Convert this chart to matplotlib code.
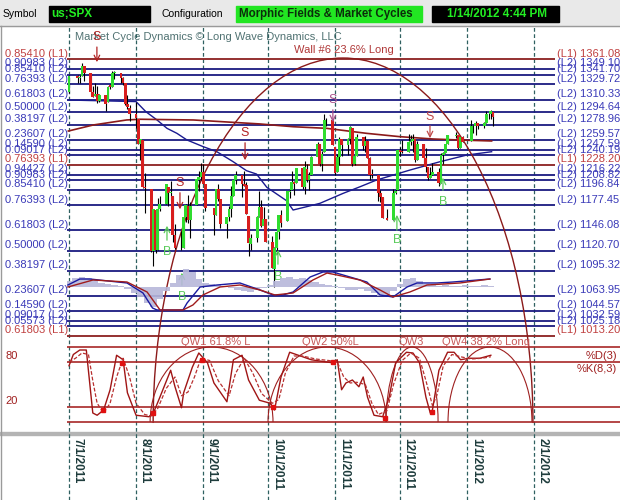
import datetime as dt

import matplotlib
matplotlib.use("Agg")
import matplotlib.pyplot as plt
import matplotlib.dates as mdates
import matplotlib.transforms as mtransforms
from matplotlib.patches import Rectangle, Arc
import pandas as pd

plt.rcParams["font.family"] = ["Liberation Sans", "DejaVu Sans"]

# ---- daily S&P 500 candles, 7/1/2011 - 1/13/2012 ----
day_numbers = {
    "2011-07": [1, 5, 6, 7, 8, 11, 12, 13, 14, 15, 18, 19, 20, 21, 22, 25, 26, 27, 28, 29],
    "2011-08": [1, 2, 3, 4, 5, 8, 9, 10, 11, 12, 15, 16, 17, 18, 19, 22, 23, 24, 25, 26, 29, 30, 31],
    "2011-09": [1, 2, 6, 7, 8, 9, 12, 13, 14, 15, 16, 19, 20, 21, 22, 23, 26, 27, 28, 29, 30],
    "2011-10": [3, 4, 5, 6, 7, 10, 11, 12, 13, 14, 17, 18, 19, 20, 21, 24, 25, 26, 27, 28, 31],
    "2011-11": [1, 2, 3, 4, 7, 8, 9, 10, 11, 14, 15, 16, 17, 18, 21, 22, 23, 25, 28, 29, 30],
    "2011-12": [1, 2, 5, 6, 7, 8, 9, 12, 13, 14, 15, 16, 19, 20, 21, 22, 23, 27, 28, 29, 30],
    "2012-01": [3, 4, 5, 6, 9, 10, 11, 12, 13],
}
dates = [f"{m}-{d:02d}" for m, days in day_numbers.items() for d in days]

opens = [
    1320.6, 1339.6, 1337.6, 1339.6, 1352.4, 1343.3, 1319.6, 1314.5, 1317.7, 1308.9, 1315.9, 1307.1, 1328.7, 1325.7, 1343.8, 1344.3, 1337.4, 1331.9, 1304.8, 1300.1,
    1292.6, 1286.6, 1254.3, 1260.2, 1200.3, 1198.5, 1120.2, 1171.8, 1121.3, 1172.9, 1178.9, 1200.7, 1192.9, 1189.6, 1140.5, 1123.6, 1124.4, 1162.2, 1176.7, 1158.9, 1177.9, 1209.8, 1213.0,
    1219.1, 1203.9, 1174.0, 1165.9, 1198.0, 1185.4, 1153.5, 1162.6, 1173.3, 1189.4, 1209.2, 1215.0, 1204.5, 1203.6, 1164.6, 1128.8, 1136.9, 1163.3, 1175.4, 1151.7, 1159.9,
    1131.2, 1097.4, 1124.0, 1144.1, 1165.0, 1158.2, 1194.6, 1196.2, 1207.0, 1205.7, 1224.5, 1200.8, 1223.5, 1209.9, 1215.4, 1238.7, 1254.2, 1229.2, 1244.0, 1284.4, 1285.0,
    1251.0, 1219.6, 1238.3, 1260.8, 1253.2, 1261.1, 1275.2, 1229.6, 1240.1, 1263.9, 1251.7, 1257.8, 1236.6, 1216.2, 1215.6, 1193.0, 1187.5, 1161.4, 1158.7, 1192.6, 1196.7,
    1246.9, 1246.0, 1244.3, 1257.2, 1258.1, 1260.9, 1234.5, 1255.1, 1236.8, 1225.7, 1212.1, 1216.1, 1219.7, 1205.7, 1241.3, 1243.7, 1254.0, 1265.0, 1265.4, 1249.8, 1262.8,
    1258.9, 1277.0, 1277.3, 1280.9, 1277.8, 1280.8, 1292.0, 1292.5, 1294.8,
]
highs = [
    1341.0, 1340.9, 1340.9, 1356.5, 1352.4, 1343.3, 1327.2, 1331.5, 1327.0, 1317.7, 1315.9, 1328.1, 1330.4, 1347.0, 1346.1, 1344.3, 1338.5, 1331.9, 1316.3, 1304.2,
    1307.4, 1286.6, 1261.2, 1260.2, 1218.1, 1198.5, 1172.9, 1171.8, 1186.3, 1189.0, 1204.5, 1200.7, 1208.5, 1189.6, 1154.5, 1145.5, 1162.4, 1178.6, 1190.7, 1181.2, 1210.1, 1220.1, 1230.7,
    1229.3, 1203.9, 1174.0, 1198.6, 1204.4, 1185.4, 1162.5, 1176.4, 1202.4, 1209.1, 1220.1, 1215.0, 1220.4, 1206.3, 1164.6, 1141.7, 1164.2, 1195.9, 1184.7, 1175.1, 1159.9,
    1139.0, 1125.1, 1146.1, 1165.6, 1171.4, 1194.9, 1199.2, 1220.3, 1207.5, 1224.6, 1224.6, 1233.1, 1229.6, 1219.4, 1239.0, 1256.6, 1254.2, 1246.3, 1292.7, 1287.2, 1285.0,
    1251.0, 1242.5, 1263.2, 1260.8, 1261.7, 1277.6, 1275.2, 1246.2, 1267.0, 1263.9, 1264.3, 1259.6, 1237.7, 1223.5, 1215.6, 1196.8, 1187.5, 1172.7, 1197.4, 1203.7, 1247.1,
    1251.1, 1260.1, 1266.7, 1266.0, 1267.1, 1260.9, 1258.3, 1255.1, 1249.9, 1225.7, 1225.6, 1231.0, 1224.6, 1242.8, 1245.1, 1255.2, 1265.4, 1269.4, 1265.9, 1263.5, 1264.1,
    1284.6, 1278.7, 1283.1, 1281.0, 1282.0, 1296.5, 1293.8, 1296.8, 1294.8,
]
lows = [
    1318.2, 1330.9, 1330.9, 1339.6, 1333.7, 1316.4, 1313.3, 1314.5, 1306.1, 1307.4, 1295.9, 1307.1, 1323.7, 1325.7, 1336.9, 1331.1, 1329.1, 1303.5, 1299.2, 1282.9,
    1274.7, 1254.0, 1234.6, 1199.5, 1168.1, 1119.3, 1101.5, 1118.0, 1121.3, 1170.7, 1178.9, 1176.4, 1184.4, 1131.0, 1122.1, 1121.1, 1124.4, 1156.3, 1155.0, 1135.9, 1177.9, 1195.8, 1209.4,
    1203.9, 1170.6, 1140.1, 1165.9, 1183.3, 1148.4, 1136.1, 1157.4, 1162.7, 1189.4, 1204.5, 1188.4, 1201.3, 1166.2, 1114.2, 1121.4, 1131.1, 1163.3, 1150.4, 1139.9, 1131.3,
    1098.9, 1074.8, 1115.7, 1135.0, 1150.3, 1158.2, 1187.3, 1196.2, 1190.6, 1205.7, 1198.6, 1191.5, 1206.3, 1197.3, 1215.4, 1238.7, 1226.8, 1221.1, 1244.0, 1277.0, 1253.2,
    1215.4, 1219.6, 1228.7, 1238.9, 1240.8, 1255.0, 1226.6, 1227.7, 1240.1, 1246.7, 1244.3, 1236.4, 1209.4, 1211.4, 1183.2, 1181.7, 1161.8, 1158.7, 1158.7, 1191.8, 1196.7,
    1239.7, 1243.4, 1244.3, 1253.0, 1244.8, 1231.5, 1234.5, 1227.3, 1219.4, 1209.5, 1212.1, 1215.2, 1202.4, 1205.7, 1229.5, 1243.7, 1254.0, 1262.3, 1248.6, 1249.8, 1257.5,
    1258.9, 1268.1, 1265.3, 1273.3, 1274.6, 1280.8, 1285.4, 1285.8, 1277.6,
]
closes = [
    1339.7, 1337.9, 1339.2, 1353.2, 1343.8, 1319.5, 1313.6, 1317.7, 1308.9, 1316.1, 1305.4, 1326.7, 1325.8, 1343.8, 1345.0, 1337.4, 1331.9, 1304.9, 1300.7, 1292.3,
    1286.9, 1254.1, 1260.3, 1200.1, 1199.4, 1119.5, 1172.5, 1120.8, 1172.6, 1178.8, 1204.5, 1192.8, 1193.9, 1140.7, 1123.5, 1123.8, 1162.4, 1177.6, 1159.3, 1176.8, 1210.1, 1212.9, 1218.9,
    1204.4, 1174.0, 1165.2, 1198.6, 1185.9, 1154.2, 1162.3, 1172.9, 1188.7, 1209.1, 1216.0, 1204.1, 1202.1, 1166.8, 1129.6, 1136.4, 1163.0, 1175.4, 1151.1, 1160.4, 1131.4,
    1099.2, 1124.0, 1144.0, 1165.0, 1155.5, 1194.9, 1195.5, 1207.3, 1203.7, 1224.6, 1200.9, 1225.4, 1209.9, 1215.4, 1238.3, 1254.2, 1229.1, 1242.0, 1284.6, 1285.1, 1253.3,
    1218.3, 1237.9, 1261.2, 1253.2, 1261.1, 1275.9, 1229.1, 1239.7, 1263.9, 1251.8, 1257.8, 1236.9, 1216.1, 1215.7, 1193.0, 1188.0, 1161.8, 1158.7, 1192.6, 1195.2, 1247.0,
    1244.6, 1244.3, 1257.1, 1258.5, 1261.0, 1234.4, 1255.2, 1236.5, 1225.7, 1211.8, 1215.8, 1219.7, 1205.4, 1241.3, 1243.7, 1254.0, 1265.3, 1265.4, 1249.6, 1263.0, 1257.6,
    1277.1, 1277.3, 1281.1, 1277.8, 1280.7, 1292.1, 1292.5, 1295.5, 1289.1,
]

# ---- Fibonacci levels (price, ratio, level) ----
level_prices = [1361.08, 1349.10, 1341.70, 1329.72, 1310.33, 1294.64, 1278.96, 1259.57, 1247.59, 1240.19,
                1228.20, 1216.22, 1208.82, 1196.84, 1177.45, 1146.08, 1120.70, 1095.32, 1063.95, 1044.57,
                1032.59, 1025.18, 1013.20]
level_ratios = ["0.85410", "0.90983", "0.85410", "0.76393", "0.61803", "0.50000", "0.38197", "0.23607", "0.14590", "0.09017",
                "0.76393", "0.94427", "0.90983", "0.85410", "0.76393", "0.61803", "0.50000", "0.38197", "0.23607", "0.14590",
                "0.09017", "0.05573", "0.61803"]
level_kinds = ["L1", "L2", "L2", "L2", "L2", "L2", "L2", "L2", "L2", "L2",
               "L1", "L2", "L2", "L2", "L2", "L2", "L2", "L2", "L2", "L2",
               "L2", "L2", "L1"]

# moving averages (days after 7/1/2011, price)
ma_fast_days = [-0.5, 31, 35.5, 40.7, 45.3, 49.9, 54.5, 62, 68.3, 75.8, 82.1, 86.7, 91.5, 94.7, 100.6, 103.6,
                109.9, 116, 126.7, 134.6, 142.2, 157.7, 171.5, 183.9, 195.4]
ma_fast = [1309.9, 1307.9, 1295.3, 1284.8, 1274.3, 1268.0, 1259.7, 1251.3, 1245.0, 1232.5, 1221.0, 1216.8, 1200.0,
           1194.2, 1183.3, 1171.6, 1175.8, 1180.0, 1192.5, 1200.9, 1209.3, 1221.9, 1232.3, 1240.7, 1244.9]
ma_slow_days = [-0.3, 11.2, 26.6, 32.8, 57.5, 88.3, 103.7, 119.1, 137.6, 153, 168.3, 180.8, 195.4]
ma_slow = [1270.9, 1278.5, 1284.8, 1285.7, 1284.8, 1279.8, 1276.3, 1274.3, 1268.0, 1263.8, 1260.9, 1259.6, 1258.4]

# MACD style oscillator
macd_days = [-0.5, 5, 9.7, 26.8, 34.2, 38.6, 40.7, 52.7, 54.6, 60.6, 68.5, 79, 88.3, 94.3, 98.9, 103.6,
             111.5, 117.4, 122, 129.9, 137.7, 143.8, 149.8, 156.3, 160.9, 170.1, 177.5, 194.6]
macd = [3.5, 13.9, 13.9, 7.0, -10.4, -36.5, -40, -40, -27.8, 0, 3.5, 7.0, -5.2, -13.9, -13.9, -8.7,
        17.4, 26.1, 26.1, 17.4, 8.7, -13.9, -17.4, 0, 7.0, 7.0, 8.7, 13.9]
signal_days = [-0.5, 11.1, 26.8, 36.1, 42.1, 52.7, 57.3, 61.9, 69.8, 79.0, 88.3, 95.2, 103.6, 112.8, 119.3,
               123.9, 134.5, 143.8, 149.8, 157.6, 165.5, 180.8, 194.6]
signal = [0, 12.2, 8.7, -8.7, -40, -40, -31.3, -13.9, 0, 3.5, -5.2, -13.9, -10.4, 12.2, 24.3,
          20.9, 12.2, -5.2, -17.4, -8.7, 3.5, 7.0, 13.9]
hist_days = [0, 3, 6, 9, 12, 15, 18, 21, 24, 27, 30, 33, 36, 39, 42, 45, 48, 51, 54, 57, 60, 63, 66, 69,
             72, 75, 78, 81, 84, 87, 90, 93, 96, 99, 102, 105, 108, 111, 114, 117, 120, 123, 126, 129,
             132, 135, 138, 141, 144, 147, 150, 153, 156, 159, 162, 165, 168, 171, 174, 177, 180, 183,
             186, 189, 192, 195]
hist = [10.4, 15.7, 17.4, 15.7, 12.2, 7.0, 5.2, 3.5, 1.7, -3.5, -10.4, -17.4, -27.8, -34.8, -20.9, -7.0,
        7.0, 20.9, 31.3, 26.1, 13.9, 7.0, 5.2, 3.5, 1.7, -1.7, -5.2, -7.0, -8.7, -5.2, -1.7, 3.5, 10.4,
        15.7, 17.4, 13.9, 15.7, 12.2, 8.7, 5.2, 3.5, 1.7, -1.7, -5.2, -5.2, -3.5, -7.0, -10.4, -15.7,
        -13.9, -7.0, 5.2, 13.9, 15.7, 10.4, 5.2, 3.5, 1.7, 3.5, 1.7, 1.7, 3.5, 1.7, 1.7, 3.5, 1.7]

# stochastic %K(8,3) and %D(3)
k_days = [0, 2, 5, 8, 10, 11, 13, 16, 19, 22, 25, 27, 31, 37, 39, 42, 47, 49, 52, 53, 57, 60, 64, 67, 73,
          76, 80, 83, 88, 93, 95, 98, 102, 106, 112, 119, 122, 124, 126, 128, 131, 134, 136, 138, 141,
          145, 148, 151, 156, 159, 162, 165, 167, 168, 171, 175, 178, 181, 185, 190, 195]
k_vals = [75, 90, 96, 96, 40, 12, 9, 16, 43, 89, 83, 39, 9, 7, 12, 33, 69, 47, 19, 39, 73, 92, 79, 52, 27,
          83, 89, 56, 29, 25, 16, 60, 93, 89, 83, 80, 79, 83, 43, 52, 56, 47, 60, 33, 9,
          7, 33, 79, 93, 92, 79, 33, 12, 16, 69, 93, 93, 83, 85, 85, 89]
d_days = [0, 3, 6, 9, 11, 13, 16, 19, 22, 25, 28, 31, 35, 38, 41, 45, 49, 52, 55, 58, 61, 65, 69, 74, 77,
          81, 85, 89, 94, 97, 100, 104, 108, 114, 120, 124, 127, 130, 133, 137, 140, 143, 147, 150, 154,
          158, 162, 165, 168, 170, 173, 177, 181, 186, 191, 195]
d_vals = [80, 85, 92, 90, 55, 25, 12, 25, 60, 85, 60, 25, 10, 8, 18, 45, 60, 35, 40, 60, 85, 82, 55, 35, 65,
          85, 65, 38, 25, 30, 65, 88, 88, 84, 82, 80, 60, 52, 53, 50, 25, 10, 15, 50, 82,
          92, 85, 55, 22, 35, 75, 90, 87, 84, 85, 87]
turn_days = [15.7, 24.5, 38.8, 61.5, 94.3, 122, 146, 168]
turn_vals = [16, 79, 12, 83, 20, 80, 5, 13]

# quarter-wave arcs: (centre day, half width in days, label, label day)
qw_centres = [65.9, 119.3, 158.6, 194.6]
qw_halfwidths = [28.4, 27.3, 12.0, 19.4]
qw_labels = ["QW1 61.8% L", "QW2 50%L", "QW3", "QW4 38.2% Long"]
qw_label_days = [51.8, 107.7, 152.1, 172.4]

# signals: day, price of letter, arrow tail, arrow head
sell_days = [12.9, 51.3, 81.4, 122, 166.9]
sell_text = [1389.1, 1205.6, 1268.4, 1309.9, 1288.4]
sell_from = [1380.0, 1196.8, 1259.6, 1301.0, 1281.0]
sell_to = [1354.0, 1169.0, 1230.7, 1278.5, 1258.4]
buy_days = [45.3, 52.2, 96.6, 151.6, 172.9]
buy_text = [1118.9, 1062.3, 1087.4, 1133.9, 1181.7]
buy_from = [1130.2, 1073.6, 1100.0, 1142.7, 1193.0]
buy_to = [1155.3, 1096.3, 1125.1, 1169.0, 1215.7]

month_starts = ["2011-07-01", "2011-08-01", "2011-09-01", "2011-10-01", "2011-11-01",
                "2011-12-01", "2012-01-01", "2012-02-01"]
month_labels = ["7/1/2011", "8/1/2011", "9/1/2011", "10/1/2011", "11/1/2011",
                "12/1/2011", "1/1/2012", "2/1/2012"]

# ---------------------------------------------------------------
W, H = 620, 500
fig = plt.figure(figsize=(W / 100, H / 100), dpi=100, facecolor="white")


def px_axes(x0, y0, x1, y1):
    return fig.add_axes([x0 / W, 1 - y1 / H, (x1 - x0) / W, (y1 - y0) / H])


L1_LINE, L2_LINE = "#8B2020", "#1A1A80"
L1_TEXT, L2_TEXT = "#C04040", "#3A3AB8"
GREEN, RED = "#2FDC2F", "#D81E1E"
d0 = mdates.date2num(dt.date(2011, 7, 1))

# background: header strip and frame
bg = fig.add_axes([0, 0, 1, 1])
bg.set_xlim(0, W)
bg.set_ylim(H, 0)
bg.axis("off")
bg.add_patch(Rectangle((0, 0), W, 26, color="#E9E9E9", zorder=0))
bg.plot([0, W], [26, 26], color="#9A9A9A", lw=1)
bg.plot([0.5, 0.5], [26, H], color="#9A9A9A", lw=1)
bg.add_patch(Rectangle((49, 6), 101, 16, color="black"))
bg.add_patch(Rectangle((236, 6), 186, 16, color="#22E622"))
bg.add_patch(Rectangle((432, 6), 127, 16, color="black"))
bg.text(3, 14, "Symbol", fontsize=7.5, va="center", color="black")
bg.text(51, 14, "us;SPX", fontsize=8.5, fontweight="bold", va="center", color="#22EE22")
bg.text(162, 14, "Configuration", fontsize=7.5, va="center", color="black")
bg.text(239, 14, "Morphic Fields & Market Cycles", fontsize=8.3, fontweight="bold",
        va="center", color="#0B2E0B")
bg.text(447, 14, "1/14/2012 4:44 PM", fontsize=8.5, fontweight="bold", va="center", color="#22EE22")
bg.add_patch(Rectangle((0, 432), W, 3, color="#B4B4B4"))
bg.text(75, 37, "Market Cycle Dynamics \u00a9 Long Wave Dynamics, LLC", fontsize=8,
        va="center", color="#507272")

# price panel
ax = px_axes(67, 26, 555, 430)
ax.set_facecolor("none")
ax.set_xlim(d0 - 0.925, d0 + 224.7)
ax.set_ylim(895.03, 1402.95)
ax.axis("off")

for p, r, k in zip(level_prices, level_ratios, level_kinds):
    ax.axhline(p, color=L1_LINE if k == "L1" else L2_LINE, lw=1.3, zorder=1)
left_tr = mtransforms.blended_transform_factory(fig.transFigure, ax.transData)
for p, r, k in zip(level_prices, level_ratios, level_kinds):
    c = L1_TEXT if k == "L1" else L2_TEXT
    ax.text(5 / W, p + 0.8, f"{r} ({k})", transform=left_tr, fontsize=8, color=c, va="bottom")
    ax.text(557 / W, p + 0.8, f"({k}) {p:.2f}", transform=left_tr, fontsize=8, color=c, va="bottom")

for m in month_starts:
    ax.axvline(mdates.datestr2num(m), ymin=-0.174, ymax=1, color="#2F6060", lw=0.9,
               ls=(0, (3, 2)), clip_on=False, zorder=0)
lab_tr = mtransforms.blended_transform_factory(ax.transData, fig.transFigure)
for m, lab in zip(month_starts, month_labels):
    ax.text(mdates.datestr2num(m) + 1.3, 1 - 438 / H, lab, transform=lab_tr, rotation=270,
            ha="left", va="top", fontsize=8.5, fontweight="bold", color="#1E3C3C")

ax.plot([d0 + d for d in ma_fast_days], ma_fast, color="#1A1A90", lw=1, zorder=2)
ax.plot([d0 + d for d in ma_slow_days], ma_slow, color="#8B1A1A", lw=1.2, zorder=2)

x = mdates.date2num(pd.to_datetime(dates))
bottoms = [min(o, c) for o, c in zip(opens, closes)]
heights = [max(abs(c - o), 0.8) for o, c in zip(opens, closes)]
colors = [GREEN if c >= o else RED for o, c in zip(opens, closes)]
ax.vlines(x, lows, highs, color="black", lw=0.8, zorder=3)
ax.bar(x, heights, bottom=bottoms, width=1.3, color=colors, zorder=4)

ax.add_patch(Arc((d0 + 126.7, 903.8), 2 * 87.8, 2 * 458.9, theta1=0, theta2=180,
                 color="#8B1A1A", lw=1, zorder=2))
ax.text(d0 + 127.1, 1372.8, "Wall #6 23.6% Long", fontsize=8, color="#B03838",
        ha="center", va="center")

sell_colors = ["#B22222", "#B22222", "#B22222", "#A8508A", "#C04848"]
for d, t, f, h, c in zip(sell_days, sell_text, sell_from, sell_to, sell_colors):
    ax.text(d0 + d, t, "S", fontsize=9, color=c, ha="center", va="center", zorder=5)
    ax.annotate("", xy=(d0 + d, h), xytext=(d0 + d, f),
                arrowprops=dict(arrowstyle="->", color=c, lw=0.9), zorder=5)
for d, t, f, h in zip(buy_days, buy_text, buy_from, buy_to):
    ax.text(d0 + d, t, "B", fontsize=9, color="#5ACB5A", ha="center", va="center", zorder=5)
    ax.annotate("", xy=(d0 + d, h), xytext=(d0 + d, f),
                arrowprops=dict(arrowstyle="->", color="#5ACB5A", lw=0.9), zorder=5)

# MACD-like oscillator inside the price panel
mx = px_axes(67, 262, 555, 322)
mx.set_facecolor("none")
mx.set_xlim(ax.get_xlim())
mx.set_ylim(-60.9, 43.5)
mx.axis("off")
mx.bar([d0 + d for d in hist_days], hist, width=3.0, color="#B7B7DA", alpha=0.9, lw=0)
mx.plot([d0 + d for d in macd_days], macd, color="#1A1AA0", lw=1)
mx.plot([d0 + d for d in signal_days], signal, color="#A01C1C", lw=1)

# stochastic panel
sx = px_axes(67, 336, 620, 430)
sx.set_facecolor("none")
sx.set_xlim(d0 - 0.925, d0 + 254.7)
sx.set_ylim(-10.67, 114.67)
sx.axis("off")
for lvl in [100, 80, 20, 0]:
    sx.axhline(lvl, color="#A82828", lw=1.2, zorder=1)
for c, hw in zip(qw_centres, qw_halfwidths):
    sx.add_patch(Arc((d0 + c, 0), 2 * hw, 200, theta1=0, theta2=180, color="#9E2020", lw=0.8))
for lab, d in zip(qw_labels, qw_label_days):
    sx.text(d0 + d, 107, lab, fontsize=8, color="#C85858", ha="left", va="center")
sx.plot([d0 + d for d in k_days], k_vals, color="#A01515", lw=1, zorder=3)
sx.plot([d0 + d for d in d_days], d_vals, color="#B83030", lw=0.9, ls=(0, (3, 1.5)), zorder=3)
sx.plot([d0 + d for d in turn_days], turn_vals, ls="none", marker="s", ms=2.5,
        color="#E01010", zorder=4)
stoch_tr = mtransforms.blended_transform_factory(fig.transFigure, sx.transData)
sx.text(5 / W, 81, "80", transform=stoch_tr, fontsize=8, color="#A02020", va="bottom")
sx.text(5 / W, 21, "20", transform=stoch_tr, fontsize=8, color="#A02020", va="bottom")
sx.text(617 / W, 81, "%D(3)", transform=stoch_tr, fontsize=8, color="#A02020",
        ha="right", va="bottom")
sx.text(617 / W, 78, "%K(8,3)", transform=stoch_tr, fontsize=8, color="#A02020",
        ha="right", va="top")

fig.savefig("out.png", dpi=100)
